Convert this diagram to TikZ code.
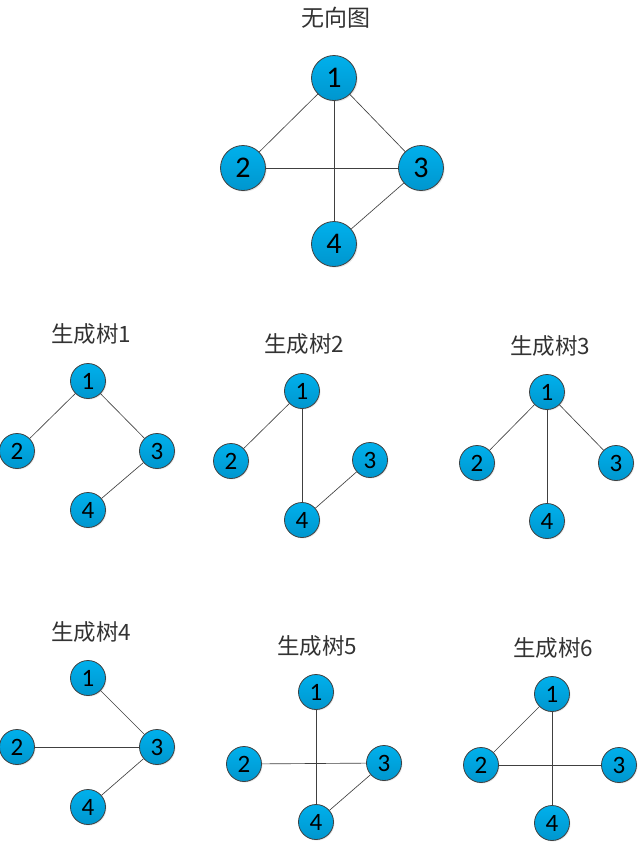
\documentclass[tikz,border=0pt]{standalone}
\usepackage{fontspec}
\setmainfont{Carlito}
\newfontfamily\cjk{Noto Sans CJK SC}
\usetikzlibrary{shadows}
\definecolor{nodetop}{HTML}{00B0EC}
\definecolor{nodebot}{HTML}{0096CE}
\definecolor{nodeline}{HTML}{404040}
\definecolor{edgecol}{HTML}{404040}
\definecolor{titlecol}{HTML}{333333}
\tikzset{
  vbig/.style={circle, draw=nodeline, line width=0.8pt, top color=nodetop, bottom color=nodebot,
    minimum size=45pt, inner sep=0pt, font=\fontsize{30}{30}\selectfont,
    drop shadow={shadow xshift=1.2pt, shadow yshift=-1.2pt, opacity=0.2}},
  vsmall/.style={circle, draw=nodeline, line width=0.8pt, top color=nodetop, bottom color=nodebot,
    minimum size=35pt, inner sep=0pt, font=\fontsize{25}{25}\selectfont,
    drop shadow={shadow xshift=1pt, shadow yshift=-1pt, opacity=0.2}},
  edge/.style={draw=edgecol, line width=0.65pt},
  ttl/.style={text=titlecol, inner sep=0pt, font=\cjk\fontsize{22.5}{22.5}\selectfont},
}
\begin{document}
\begin{tikzpicture}[x=1pt,y=-1pt]
\path[use as bounding box] (0,0) rectangle (640,844);
% main graph
\node[ttl, font=\cjk\fontsize{23}{23}\selectfont] (T0) at (336,18) {无向图};
\node[vbig] (a1) at (334,78) {1};
\node[vbig] (a2) at (243,168) {2};
\node[vbig] (a3) at (421,168) {3};
\node[vbig] (a4) at (334,244) {4};
\draw[edge] (a1) -- (a2);
\draw[edge] (a1) -- (a3);
\draw[edge] (a1) -- (a4);
\draw[edge] (a2) -- (a3);
\draw[edge] (a3) -- (a4);
% tree 1
\node[ttl] (T1) at (91,334) {生成树1};
\node[vsmall] (b1) at (88,381) {1};
\node[vsmall] (b2) at (17,451) {2};
\node[vsmall] (b3) at (157,451) {3};
\node[vsmall] (b4) at (88,510) {4};
\draw[edge] (b1) -- (b2);
\draw[edge] (b1) -- (b3);
\draw[edge] (b3) -- (b4);
% tree 2
\node[ttl] (T2) at (304,344) {生成树2};
\node[vsmall] (c1) at (302,391) {1};
\node[vsmall] (c2) at (231,461) {2};
\node[vsmall] (c3) at (370,460) {3};
\node[vsmall] (c4) at (302,520) {4};
\draw[edge] (c1) -- (c2);
\draw[edge] (c1) -- (c4);
\draw[edge] (c4) -- (c3);
% tree 3
\node[ttl] (T3) at (550,346) {生成树3};
\node[vsmall] (d1) at (547,392) {1};
\node[vsmall] (d2) at (477,463) {2};
\node[vsmall] (d3) at (616,463) {3};
\node[vsmall] (d4) at (547,521) {4};
\draw[edge] (d1) -- (d2);
\draw[edge] (d1) -- (d3);
\draw[edge] (d1) -- (d4);
% tree 4
\node[ttl] (T4) at (91,632) {生成树4};
\node[vsmall] (e1) at (88,678) {1};
\node[vsmall] (e2) at (17,747) {2};
\node[vsmall] (e3) at (157,747) {3};
\node[vsmall] (e4) at (88,807) {4};
\draw[edge] (e1) -- (e3);
\draw[edge] (e2) -- (e3);
\draw[edge] (e3) -- (e4);
% tree 5
\node[ttl] (T5) at (317,646) {生成树5};
\node[vsmall] (f1) at (316,692) {1};
\node[vsmall] (f2) at (244,764) {2};
\node[vsmall] (f3) at (384,763) {3};
\node[vsmall] (f4) at (316,822) {4};
\draw[edge] (f1) -- (f4);
\draw[edge] (f2) -- (f3);
\draw[edge] (f3) -- (f4);
% tree 6
\node[ttl] (T6) at (553,648) {生成树6};
\node[vsmall] (g1) at (552,694) {1};
\node[vsmall] (g2) at (481,765) {2};
\node[vsmall] (g3) at (619,765) {3};
\node[vsmall] (g4) at (552,823) {4};
\draw[edge] (g1) -- (g2);
\draw[edge] (g1) -- (g4);
\draw[edge] (g2) -- (g3);
\end{tikzpicture}
\end{document}
